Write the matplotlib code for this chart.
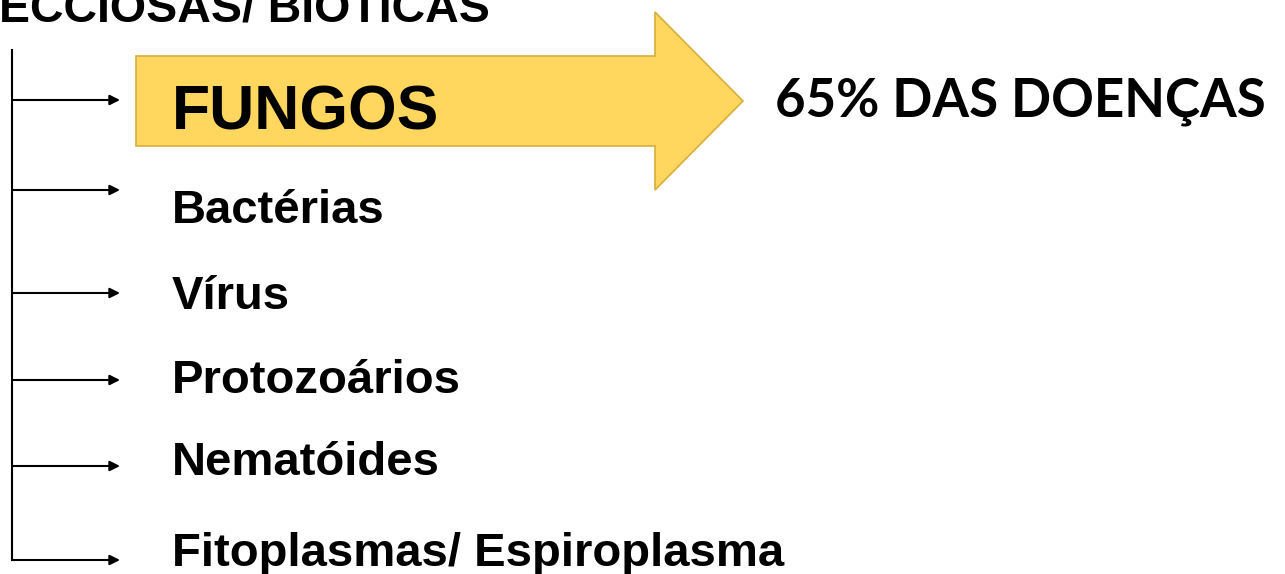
import matplotlib.pyplot as plt
from matplotlib.patches import FancyArrow

# list of agents, with the y of each branch arrow and of each text baseline (pixels from top)
items = ["FUNGOS", "Bactérias", "Vírus", "Protozoários", "Nematóides",
         "Fitoplasmas/ Espiroplasma"]
arrow_y = [100, 190, 293, 380, 466, 560]
text_base = [130, 223, 309, 393, 475, 566]
title = "ECCIOSAS/ BIOTICAS"
note = "65% DAS DOENÇAS"

W, H = 1285, 574
fig = plt.figure(figsize=(W / 100, H / 100), dpi=100)
ax = fig.add_axes([0, 0, 1, 1])
ax.set_xlim(0, W)
ax.set_ylim(H, 0)
ax.axis("off")

# big yellow arrow behind FUNGOS
ax.add_patch(FancyArrow(136, 101, 607, 0, width=90, head_width=178,
                        head_length=88, length_includes_head=True,
                        facecolor="#FFD65E", edgecolor="#D8AE3C", lw=1.2,
                        zorder=1))

# tree: vertical trunk + branch arrows
ax.plot([12, 12], [50, arrow_y[-1]], color="black", lw=1.5, zorder=2)
for y in arrow_y:
        ax.annotate("", xy=(120, y), xytext=(12, y),
                    arrowprops=dict(arrowstyle="-|>", color="black", lw=1.5,
                                    mutation_scale=15, shrinkA=0, shrinkB=0),
                    zorder=2)

font = "Liberation Sans"
for i, (txt, yb) in enumerate(zip(items, text_base)):
        size = 45 if i == 0 else 34
        ax.text(172, yb, txt, fontsize=size, fontweight="bold", family=font,
                ha="left", va="baseline", color="black", zorder=3)

ax.text(-1, 22, title, fontsize=33.5, fontweight="bold", family=font,
        ha="left", va="baseline", color="black")

# side note, shrunk so it ends near the right edge like the original
t = ax.text(775, 117, note, fontsize=41, fontweight="bold", family="Lato",
            ha="left", va="baseline", color="black")
r = fig.canvas.get_renderer()
w = t.get_window_extent(renderer=r).width
t.set_fontsize(41 * 492 / w)

fig.savefig("out.png", dpi=100, facecolor="white")
